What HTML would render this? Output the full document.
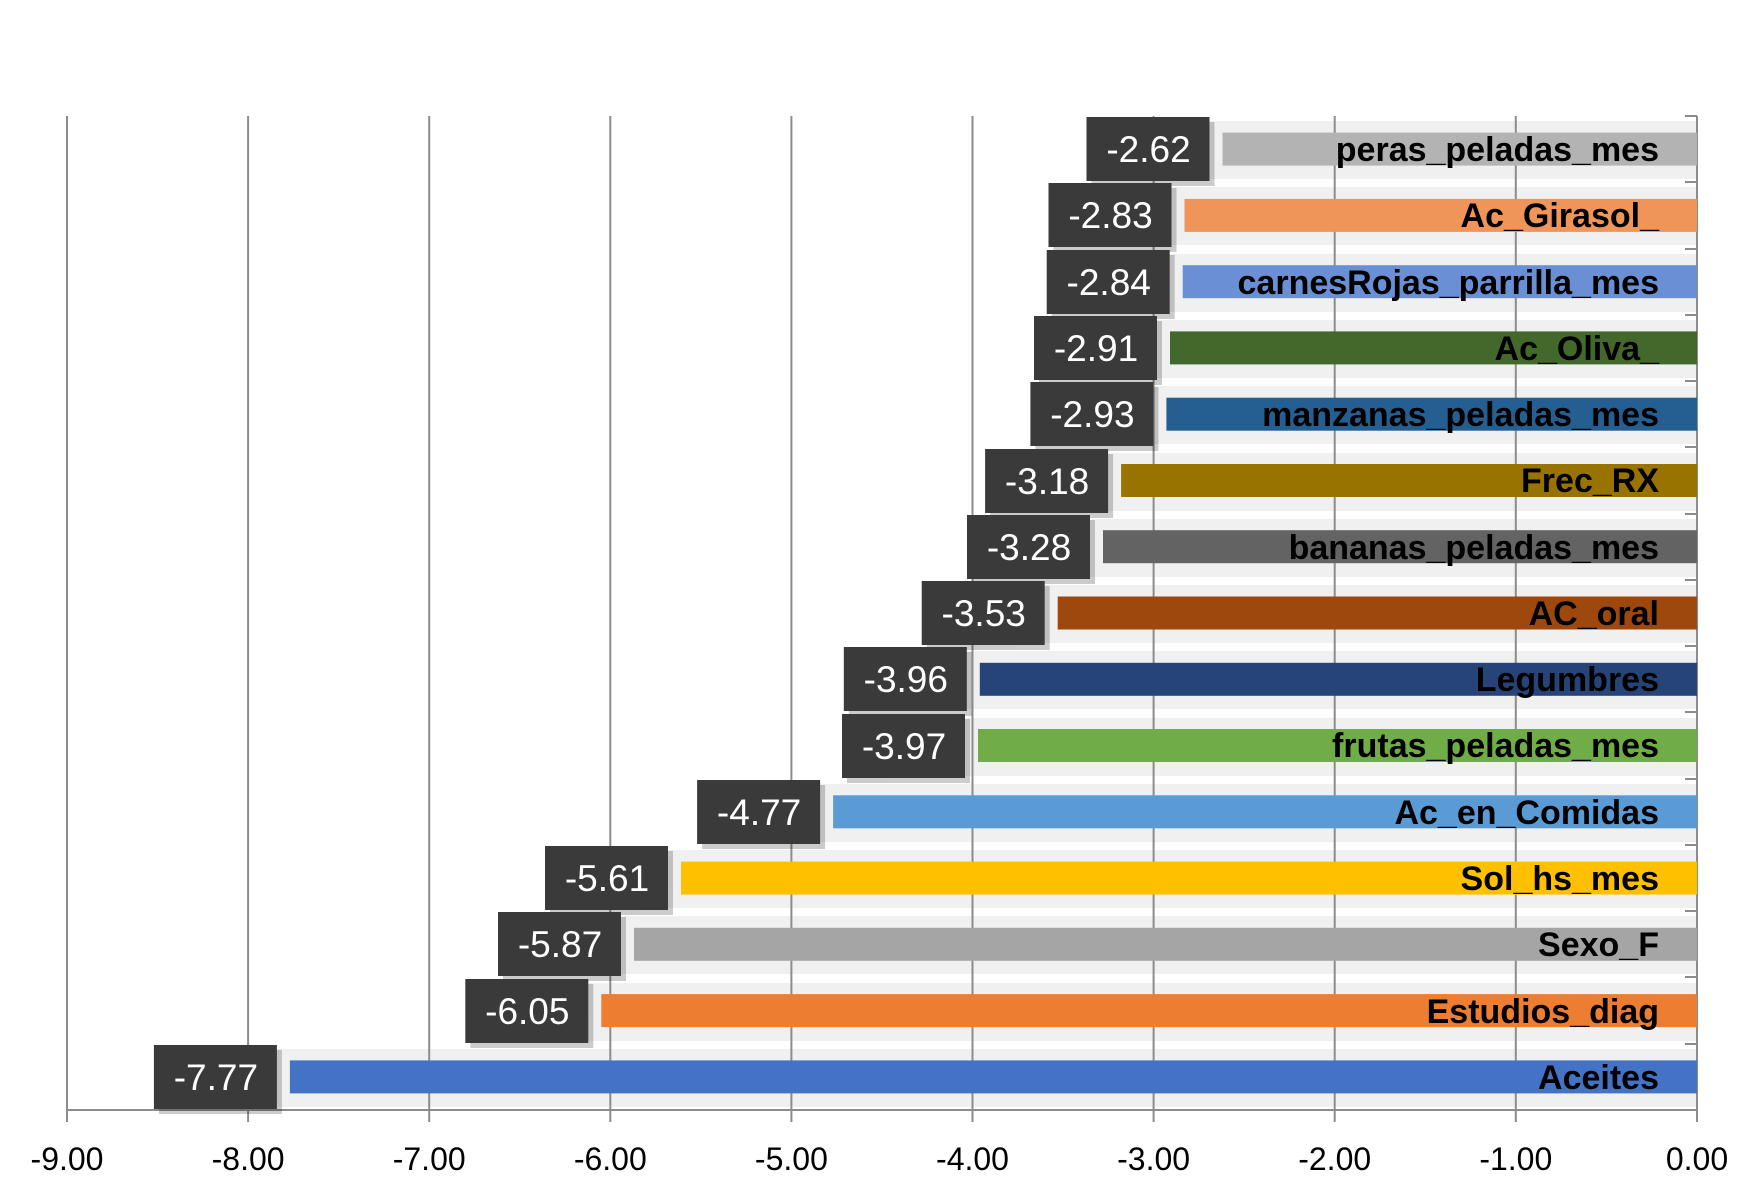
<!DOCTYPE html>
<html><head><meta charset="utf-8"><style>body{margin:0;background:#fff}svg{display:block}</style></head><body>
<svg width="1749" height="1189" viewBox="0 0 1749 1189" xmlns="http://www.w3.org/2000/svg" font-family="'Liberation Sans', sans-serif">
<g fill="#f0f0f0">
<rect x="1202" y="121" width="495" height="58"/>
<rect x="1164" y="187" width="533" height="58"/>
<rect x="1162" y="254" width="535" height="58"/>
<rect x="1150" y="320" width="547" height="58"/>
<rect x="1146" y="386" width="551" height="58"/>
<rect x="1101" y="453" width="596" height="58"/>
<rect x="1083" y="519" width="614" height="58"/>
<rect x="1038" y="585" width="659" height="58"/>
<rect x="960" y="651" width="737" height="58"/>
<rect x="958" y="718" width="739" height="58"/>
<rect x="813" y="784" width="884" height="58"/>
<rect x="661" y="850" width="1036" height="58"/>
<rect x="614" y="916" width="1083" height="58"/>
<rect x="581" y="983" width="1116" height="58"/>
<rect x="270" y="1049" width="1427" height="58"/>
</g>
<g stroke="#8c8c8c" stroke-width="2">
<line x1="67" y1="116" x2="67" y2="1122"/>
<line x1="248.1" y1="116" x2="248.1" y2="1122"/>
<line x1="429.2" y1="116" x2="429.2" y2="1122"/>
<line x1="610.3" y1="116" x2="610.3" y2="1122"/>
<line x1="791.4" y1="116" x2="791.4" y2="1122"/>
<line x1="972.5" y1="116" x2="972.5" y2="1122"/>
<line x1="1153.6" y1="116" x2="1153.6" y2="1122"/>
<line x1="1334.7" y1="116" x2="1334.7" y2="1122"/>
<line x1="1515.8" y1="116" x2="1515.8" y2="1122"/>
<line x1="1697" y1="116" x2="1697" y2="1122"/>
<line x1="67" y1="1110" x2="1697" y2="1110"/>
<path d="M1685 116H1697M1685 182H1697M1685 249H1697M1685 315H1697M1685 381H1697M1685 447H1697M1685 514H1697M1685 580H1697M1685 646H1697M1685 712H1697M1685 779H1697M1685 845H1697M1685 911H1697M1685 977H1697M1685 1044H1697"/>
</g>
<g font-size="32" text-anchor="middle" fill="#000">
<text x="67" y="1170">-9.00</text><text x="248.1" y="1170">-8.00</text><text x="429.2" y="1170">-7.00</text><text x="610.3" y="1170">-6.00</text><text x="791.4" y="1170">-5.00</text><text x="972.5" y="1170">-4.00</text><text x="1153.6" y="1170">-3.00</text><text x="1334.7" y="1170">-2.00</text><text x="1515.8" y="1170">-1.00</text><text x="1697" y="1170">0.00</text>
</g>
<g>
<rect x="1222.5" y="132.6" width="474.5" height="33" fill="#b3b3b3"/>
<rect x="1184.5" y="198.9" width="512.5" height="33" fill="#f0955a"/>
<rect x="1182.7" y="265.2" width="514.3" height="33" fill="#6b8fd4"/>
<rect x="1170" y="331.4" width="527" height="33" fill="#43682b"/>
<rect x="1166.4" y="397.7" width="530.6" height="33" fill="#255e91"/>
<rect x="1121.1" y="464" width="575.9" height="33" fill="#997300"/>
<rect x="1103" y="530.2" width="594" height="33" fill="#636363"/>
<rect x="1057.7" y="596.5" width="639.3" height="33" fill="#9e480e"/>
<rect x="979.8" y="662.8" width="717.2" height="33" fill="#264478"/>
<rect x="978" y="729" width="719" height="33" fill="#70ad47"/>
<rect x="833.1" y="795.3" width="863.9" height="33" fill="#5b9bd5"/>
<rect x="681" y="861.6" width="1016" height="33" fill="#ffc000"/>
<rect x="634" y="927.8" width="1063" height="33" fill="#a5a5a5"/>
<rect x="601.3" y="994.1" width="1095.7" height="33" fill="#ed7d31"/>
<rect x="289.9" y="1060.4" width="1407.1" height="33" fill="#4472c4"/>
</g>
<g font-size="34" font-weight="bold" text-anchor="end" fill="#000">
<text x="1659" y="161">peras_peladas_mes</text>
<text x="1659" y="227">Ac_Girasol_</text>
<text x="1659" y="294">carnesRojas_parrilla_mes</text>
<text x="1659" y="360">Ac_Oliva_</text>
<text x="1659" y="426">manzanas_peladas_mes</text>
<text x="1659" y="492">Frec_RX</text>
<text x="1659" y="559">bananas_peladas_mes</text>
<text x="1659" y="625">AC_oral</text>
<text x="1659" y="691">Legumbres</text>
<text x="1659" y="757">frutas_peladas_mes</text>
<text x="1659" y="824">Ac_en_Comidas</text>
<text x="1659" y="890">Sol_hs_mes</text>
<text x="1659" y="956">Sexo_F</text>
<text x="1659" y="1023">Estudios_diag</text>
<text x="1659" y="1089">Aceites</text>
</g>
<g fill="#000" opacity="0.2">
<rect x="1091.5" y="122" width="123" height="64"/>
<rect x="1053.5" y="188" width="123" height="64"/>
<rect x="1051.7" y="255" width="123" height="64"/>
<rect x="1039" y="321" width="123" height="64"/>
<rect x="1035.4" y="387" width="123" height="64"/>
<rect x="990.1" y="454" width="123" height="64"/>
<rect x="972" y="520" width="123" height="64"/>
<rect x="926.7" y="586" width="123" height="64"/>
<rect x="848.8" y="652" width="123" height="64"/>
<rect x="847" y="719" width="123" height="64"/>
<rect x="702.1" y="785" width="123" height="64"/>
<rect x="550" y="851" width="123" height="64"/>
<rect x="503" y="917" width="123" height="64"/>
<rect x="470.3" y="984" width="123" height="64"/>
<rect x="158.9" y="1050" width="123" height="64"/>
</g>
<g fill="#3a3a3a">
<rect x="1086.5" y="117" width="123" height="64"/>
<rect x="1048.5" y="183" width="123" height="64"/>
<rect x="1046.7" y="250" width="123" height="64"/>
<rect x="1034" y="316" width="123" height="64"/>
<rect x="1030.4" y="382" width="123" height="64"/>
<rect x="985.1" y="449" width="123" height="64"/>
<rect x="967" y="515" width="123" height="64"/>
<rect x="921.7" y="581" width="123" height="64"/>
<rect x="843.8" y="647" width="123" height="64"/>
<rect x="842" y="714" width="123" height="64"/>
<rect x="697.1" y="780" width="123" height="64"/>
<rect x="545" y="846" width="123" height="64"/>
<rect x="498" y="912" width="123" height="64"/>
<rect x="465.3" y="979" width="123" height="64"/>
<rect x="153.9" y="1045" width="123" height="64"/>
</g>
<g font-size="37" text-anchor="middle" fill="#fff">
<text x="1148.5" y="162">-2.62</text>
<text x="1110.5" y="228">-2.83</text>
<text x="1108.7" y="295">-2.84</text>
<text x="1096" y="361">-2.91</text>
<text x="1092.4" y="427">-2.93</text>
<text x="1047.1" y="494">-3.18</text>
<text x="1029" y="560">-3.28</text>
<text x="983.7" y="626">-3.53</text>
<text x="905.8" y="692">-3.96</text>
<text x="904" y="759">-3.97</text>
<text x="759.1" y="825">-4.77</text>
<text x="607" y="891">-5.61</text>
<text x="560" y="957">-5.87</text>
<text x="527.3" y="1024">-6.05</text>
<text x="215.9" y="1090">-7.77</text>
</g>
</svg>
</body></html>
